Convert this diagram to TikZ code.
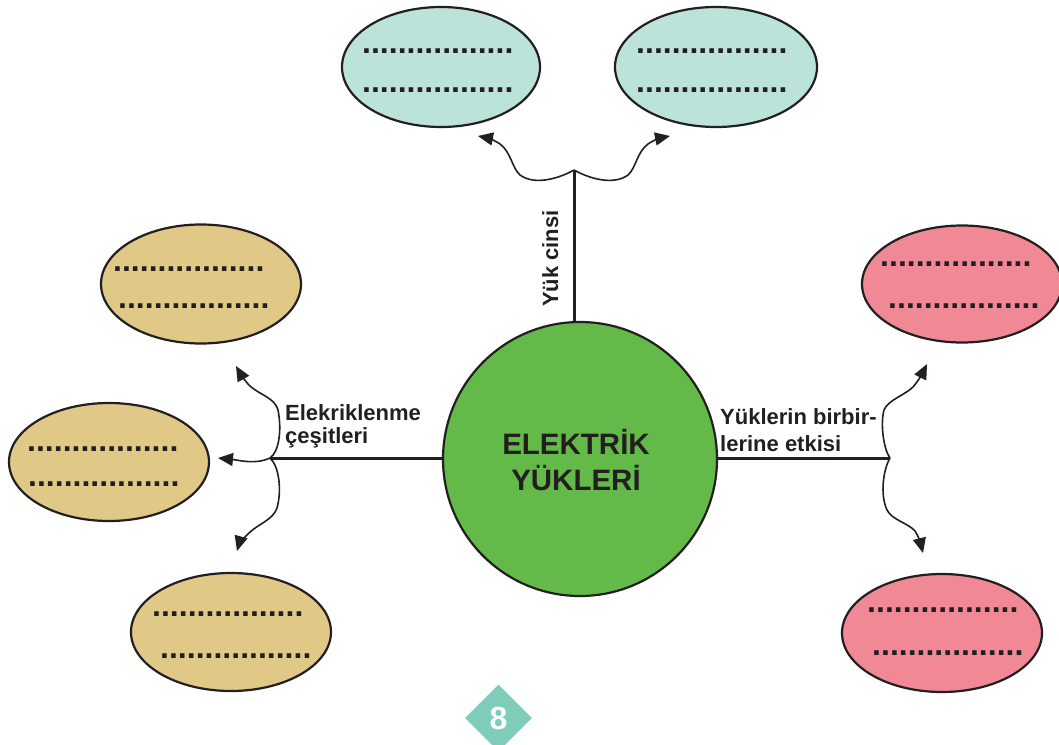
\documentclass[tikz,border=0pt]{standalone}
\usepackage{fontspec}
\setmainfont{Liberation Sans}
\usetikzlibrary{arrows.meta,shapes.geometric}
\definecolor{ink}{RGB}{35,31,32}
\definecolor{chargegreen}{RGB}{100,186,72}
\definecolor{typeteal}{RGB}{188,227,218}
\definecolor{kindtan}{RGB}{224,200,134}
\definecolor{forcepink}{RGB}{240,137,149}
\definecolor{badgeteal}{RGB}{125,205,186}
\tikzset{
  bubble/.style={ellipse, draw=ink, line width=2.2pt, inner sep=0pt},
  dotrow/.style={anchor=base west, inner sep=0pt, text=ink,
    font=\fontsize{32}{32}\selectfont\bfseries},
  stem/.style={draw=ink, line width=3pt},
  wavy/.style={draw=ink, line width=1.6pt,
    -{Triangle[length=15pt,width=13pt]}},
  branchlabel/.style={inner sep=0pt, text=ink, align=left,
    font=\fontsize{22}{25}\selectfont\bfseries}
}
\newcommand{\blankbubble}[5]{%
  \node[bubble, fill=#2, minimum width=#3pt, minimum height=#4pt] (#1) at (#5) {};}
\begin{document}
\begin{tikzpicture}[x=1pt,y=-1pt]
\useasboundingbox (0,0) rectangle (1059,744);

% answer bubbles
\blankbubble{tl}{typeteal}{198}{120}{441,67}
\blankbubble{tr}{typeteal}{202}{120}{716,67}
\blankbubble{la}{kindtan}{200}{119}{201,284}
\blankbubble{lb}{kindtan}{200}{118}{109,462}
\blankbubble{lc}{kindtan}{200}{118}{231,632}
\blankbubble{ra}{forcepink}{200}{117}{962,284}
\blankbubble{rb}{forcepink}{200}{118}{942,633}

% dotted answer lines
\node[dotrow] (tl1) at (362,53.2) {.................};
\node[dotrow] (tl2) at (362,92.2) {.................};
\node[dotrow] (tr1) at (636,53.2) {.................};
\node[dotrow] (tr2) at (636,92.2) {.................};
\node[dotrow] (la1) at (113,271.2) {.................};
\node[dotrow] (la2) at (118,308.2) {.................};
\node[dotrow] (lb1) at (27,451.2) {.................};
\node[dotrow] (lb2) at (28,486.2) {.................};
\node[dotrow] (lc1) at (152,616.2) {.................};
\node[dotrow] (lc2) at (160,658.2) {.................};
\node[dotrow] (ra1) at (880,266.2) {.................};
\node[dotrow] (ra2) at (888,308.2) {.................};
\node[dotrow] (rb1) at (867,612.2) {.................};
\node[dotrow] (rb2) at (872,655.2) {.................};

% central topic
\node[circle, draw=ink, line width=2.2pt, fill=chargegreen,
      minimum size=274pt, inner sep=0pt] (core) at (580,459) {};
\node[inner sep=0pt, text=ink, align=center,
      font=\fontsize{29.5}{36}\selectfont\bfseries] (title) at (576,460)
      {ELEKTR\.{I}K\\Y\"UKLER\.{I}};

% branch junctions
\coordinate (jt) at (574,170);
\coordinate (jl) at (270,458);
\coordinate (jr) at (890,458);

% arrow ends
\coordinate (at1) at (478,136);
\coordinate (at2) at (670,136);
\coordinate (al1) at (236,366);
\coordinate (al2) at (218,458);
\coordinate (al3) at (237,551);
\coordinate (ar1) at (927,364);
\coordinate (ar2) at (923,553);

% stems
\draw[stem] (jt) -- (jt |- core.north);
\draw[stem] (jl) -- (jl -| core.west);
\draw[stem] (jr) -- (jr -| core.east);

% wavy arrows, top
\draw[wavy] (jt) .. controls (560,178) and (535,186) .. (520,175)
  .. controls (512,168) and (511,152) .. (500,144)
  .. controls (494,140) and (488,138) .. (at1);
\draw[wavy] (jt) .. controls (588,178) and (613,186) .. (628,175)
  .. controls (636,168) and (637,152) .. (648,144)
  .. controls (654,140) and (660,138) .. (at2);

% wavy arrows, left
\draw[wavy] (jl) .. controls (279,452) and (282,430) .. (278,410)
  .. controls (275,398) and (260,395) .. (250,386)
  .. controls (244,380) and (240,373) .. (al1);
\draw[wavy] (jl) .. controls (255,465) and (238,460) .. (al2);
\draw[wavy] (jl) .. controls (279,466) and (282,490) .. (277,508)
  .. controls (273,520) and (258,524) .. (249,533)
  .. controls (243,539) and (239,544) .. (al3);

% wavy arrows, right
\draw[wavy] (jr) .. controls (884,450) and (880,425) .. (884,410)
  .. controls (888,400) and (905,395) .. (913,387)
  .. controls (919,380) and (923,372) .. (ar1);
\draw[wavy] (jr) .. controls (883,470) and (880,495) .. (887,510)
  .. controls (892,520) and (908,523) .. (915,531)
  .. controls (919,537) and (921,545) .. (ar2);

% branch labels (base anchor sits on the last line)
\node[branchlabel, rotate=90, anchor=base west] (ltype) at (558,307) {Y\"uk cinsi};
\node[branchlabel, anchor=base west, font=\fontsize{22}{23}\selectfont\bfseries]
  (lkind) at (285,443) {Elekriklenme\\\c{c}e\c{s}itleri};
\node[branchlabel, anchor=base west, font=\fontsize{22}{27}\selectfont\bfseries]
  (lforce) at (720,451) {Y\"uklerin birbir-\\lerine etkisi};

% page badge
\node[diamond, fill=badgeteal, minimum width=67pt, minimum height=67pt,
      inner sep=0pt, text=white, font=\fontsize{32}{32}\selectfont\bfseries]
      (badge) at (498.5,718) {8};
\end{tikzpicture}
\end{document}
